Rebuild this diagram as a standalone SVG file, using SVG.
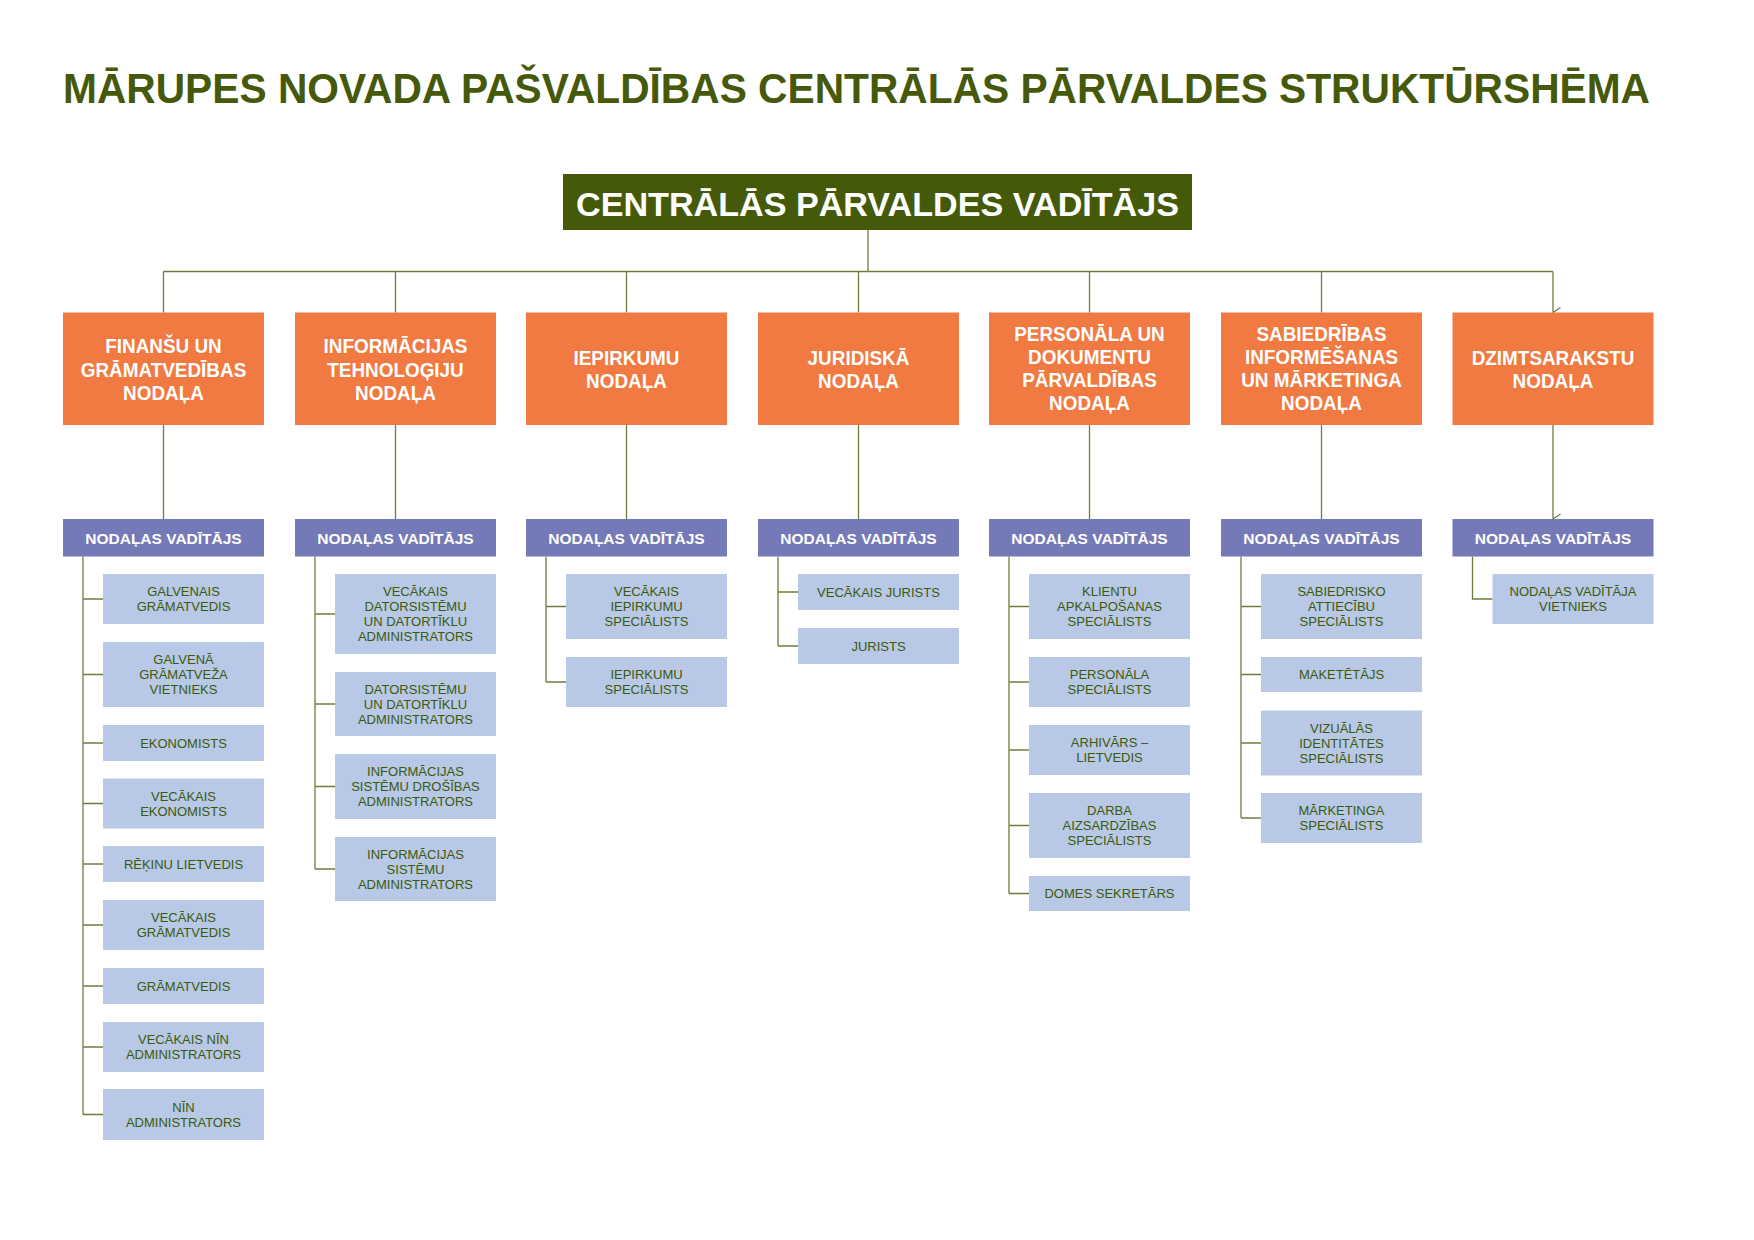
<svg xmlns="http://www.w3.org/2000/svg" width="1754" height="1240" viewBox="0 0 1754 1240">
<style>
.t{font-family:"Liberation Sans",Arial,sans-serif;font-weight:bold;fill:#46590a}
.r{font-family:"Liberation Sans",Arial,sans-serif;font-weight:bold;fill:#fff}
.o{fill:#f07a42}.p{fill:#7479b7}.b{fill:#b8c8e6}
.ot{font-family:"Liberation Sans",Arial,sans-serif;font-weight:bold;font-size:21px;fill:#fff;text-anchor:middle}
.pt{font-family:"Liberation Sans",Arial,sans-serif;font-weight:bold;font-size:15.5px;fill:#fff;text-anchor:middle}
.bt{font-family:"Liberation Sans",Arial,sans-serif;font-size:13px;fill:#3b5a0a;text-anchor:middle}
.c{fill:none;stroke:#6b7f3a;stroke-width:1.3}
</style>
<defs><marker id="a" markerWidth="12" markerHeight="9" refX="6" refY="8.5" orient="auto" markerUnits="userSpaceOnUse" viewBox="0 0 12 9"><path d="M1,1 L6,8.5 L11,1" fill="none" stroke="#6b7f3a" stroke-width="1.3"/></marker></defs>
<rect width="1754" height="1240" fill="#fff"/>
<text id="title" class="t" x="63" y="103" font-size="42" textLength="1587" lengthAdjust="spacingAndGlyphs">MĀRUPES NOVADA PAŠVALDĪBAS CENTRĀLĀS PĀRVALDES STRUKTŪRSHĒMA</text>
<g id="connectors">
<path class="c" d="M868,230V271.5M163.5,271.5H1553"/>
<path class="c" marker-end="url(#a)" d="M163.5,271.5V312.5M395.5,271.5V312.5M626.5,271.5V312.5M858.5,271.5V312.5M1089.5,271.5V312.5M1321.5,271.5V312.5M1553,271.5V312.5"/>
<path class="c" marker-end="url(#a)" d="M163.5,425V519M395.5,425V519M626.5,425V519M858.5,425V519M1089.5,425V519M1321.5,425V519M1553,425V519"/>
<path class="c" d="M83,556.5V1114.5M83,599H103M83,674.5H103M83,743H103M83,803.5H103M83,864H103M83,925H103M83,986H103M83,1047H103M83,1114.5H103"/>
<path class="c" d="M315,556.5V869M315,614H335M315,704H335M315,786.5H335M315,869H335"/>
<path class="c" d="M546,556.5V682M546,606.5H566M546,682H566"/>
<path class="c" d="M778,556.5V646M778,592H798M778,646H798"/>
<path class="c" d="M1009,556.5V893.5M1009,606.5H1029M1009,682H1029M1009,750H1029M1009,825.5H1029M1009,893.5H1029"/>
<path class="c" d="M1241,556.5V818M1241,606.5H1261M1241,674.5H1261M1241,743H1261M1241,818H1261"/>
<path class="c" d="M1472.5,556.5V599H1492.5"/>
</g>
<g id="root"><rect x="563" y="174" width="629" height="56" fill="#455a08"/><text class="r" x="576" y="216" font-size="34" textLength="603" lengthAdjust="spacingAndGlyphs">CENTRĀLĀS PĀRVALDES VADĪTĀJS</text></g>

<g id="d1"><rect class="o" x="63" y="312.5" width="201" height="112.5"/><text class="ot" transform="translate(163.5,0) scale(0.9,1)"><tspan x="0" y="353.5">FINANŠU UN</tspan><tspan x="0" y="377">GRĀMATVEDĪBAS</tspan><tspan x="0" y="400">NODAĻA</tspan></text></g>
<g id="d2"><rect class="o" x="295" y="312.5" width="201" height="112.5"/><text class="ot" transform="translate(395.5,0) scale(0.9,1)"><tspan x="0" y="353.5">INFORMĀCIJAS</tspan><tspan x="0" y="377">TEHNOLOĢIJU</tspan><tspan x="0" y="400">NODAĻA</tspan></text></g>
<g id="d3"><rect class="o" x="526" y="312.5" width="201" height="112.5"/><text class="ot" transform="translate(626.5,0) scale(0.9,1)"><tspan x="0" y="365">IEPIRKUMU</tspan><tspan x="0" y="388">NODAĻA</tspan></text></g>
<g id="d4"><rect class="o" x="758" y="312.5" width="201" height="112.5"/><text class="ot" transform="translate(858.5,0) scale(0.9,1)"><tspan x="0" y="365">JURIDISKĀ</tspan><tspan x="0" y="388">NODAĻA</tspan></text></g>
<g id="d5"><rect class="o" x="989" y="312.5" width="201" height="112.5"/><text class="ot" transform="translate(1089.5,0) scale(0.9,1)"><tspan x="0" y="341.5">PERSONĀLA UN</tspan><tspan x="0" y="364.5">DOKUMENTU</tspan><tspan x="0" y="387.5">PĀRVALDĪBAS</tspan><tspan x="0" y="410.5">NODAĻA</tspan></text></g>
<g id="d6"><rect class="o" x="1221" y="312.5" width="201" height="112.5"/><text class="ot" transform="translate(1321.5,0) scale(0.9,1)"><tspan x="0" y="341.5">SABIEDRĪBAS</tspan><tspan x="0" y="364.5">INFORMĒŠANAS</tspan><tspan x="0" y="387.5">UN MĀRKETINGA</tspan><tspan x="0" y="410.5">NODAĻA</tspan></text></g>
<g id="d7"><rect class="o" x="1452.5" y="312.5" width="201" height="112.5"/><text class="ot" transform="translate(1553,0) scale(0.9,1)"><tspan x="0" y="365">DZIMTSARAKSTU</tspan><tspan x="0" y="388">NODAĻA</tspan></text></g>

<g id="h1"><rect class="p" x="63" y="519" width="201" height="37.5"/><text class="pt" x="163.5" y="543.5">NODAĻAS VADĪTĀJS</text></g>
<g id="h2"><rect class="p" x="295" y="519" width="201" height="37.5"/><text class="pt" x="395.5" y="543.5">NODAĻAS VADĪTĀJS</text></g>
<g id="h3"><rect class="p" x="526" y="519" width="201" height="37.5"/><text class="pt" x="626.5" y="543.5">NODAĻAS VADĪTĀJS</text></g>
<g id="h4"><rect class="p" x="758" y="519" width="201" height="37.5"/><text class="pt" x="858.5" y="543.5">NODAĻAS VADĪTĀJS</text></g>
<g id="h5"><rect class="p" x="989" y="519" width="201" height="37.5"/><text class="pt" x="1089.5" y="543.5">NODAĻAS VADĪTĀJS</text></g>
<g id="h6"><rect class="p" x="1221" y="519" width="201" height="37.5"/><text class="pt" x="1321.5" y="543.5">NODAĻAS VADĪTĀJS</text></g>
<g id="h7"><rect class="p" x="1452.5" y="519" width="201" height="37.5"/><text class="pt" x="1553" y="543.5">NODAĻAS VADĪTĀJS</text></g>

<g id="c1a"><rect class="b" x="103" y="574" width="161" height="50"/><text class="bt"><tspan x="183.5" y="596">GALVENAIS</tspan><tspan x="183.5" y="611">GRĀMATVEDIS</tspan></text></g>
<g id="c1b"><rect class="b" x="103" y="642" width="161" height="65"/><text class="bt"><tspan x="183.5" y="664">GALVENĀ</tspan><tspan x="183.5" y="679">GRĀMATVEŽA</tspan><tspan x="183.5" y="694">VIETNIEKS</tspan></text></g>
<g id="c1c"><rect class="b" x="103" y="725" width="161" height="36"/><text class="bt" x="183.5" y="747.5">EKONOMISTS</text></g>
<g id="c1d"><rect class="b" x="103" y="778.5" width="161" height="50"/><text class="bt"><tspan x="183.5" y="800.5">VECĀKAIS</tspan><tspan x="183.5" y="815.5">EKONOMISTS</tspan></text></g>
<g id="c1e"><rect class="b" x="103" y="846" width="161" height="36"/><text class="bt" x="183.5" y="868.5">RĒĶINU LIETVEDIS</text></g>
<g id="c1f"><rect class="b" x="103" y="900" width="161" height="50"/><text class="bt"><tspan x="183.5" y="922">VECĀKAIS</tspan><tspan x="183.5" y="937">GRĀMATVEDIS</tspan></text></g>
<g id="c1g"><rect class="b" x="103" y="968" width="161" height="36"/><text class="bt" x="183.5" y="990.5">GRĀMATVEDIS</text></g>
<g id="c1h"><rect class="b" x="103" y="1022" width="161" height="50"/><text class="bt"><tspan x="183.5" y="1044">VECĀKAIS NĪN</tspan><tspan x="183.5" y="1059">ADMINISTRATORS</tspan></text></g>
<g id="c1i"><rect class="b" x="103" y="1089" width="161" height="51"/><text class="bt"><tspan x="183.5" y="1111.5">NĪN</tspan><tspan x="183.5" y="1126.5">ADMINISTRATORS</tspan></text></g>

<g id="c2a"><rect class="b" x="335" y="574" width="161" height="80"/><text class="bt"><tspan x="415.5" y="596">VECĀKAIS</tspan><tspan x="415.5" y="611">DATORSISTĒMU</tspan><tspan x="415.5" y="626">UN DATORTĪKLU</tspan><tspan x="415.5" y="641">ADMINISTRATORS</tspan></text></g>
<g id="c2b"><rect class="b" x="335" y="672" width="161" height="64"/><text class="bt"><tspan x="415.5" y="693.5">DATORSISTĒMU</tspan><tspan x="415.5" y="708.5">UN DATORTĪKLU</tspan><tspan x="415.5" y="723.5">ADMINISTRATORS</tspan></text></g>
<g id="c2c"><rect class="b" x="335" y="754" width="161" height="65"/><text class="bt"><tspan x="415.5" y="776">INFORMĀCIJAS</tspan><tspan x="415.5" y="791">SISTĒMU DROŠĪBAS</tspan><tspan x="415.5" y="806">ADMINISTRATORS</tspan></text></g>
<g id="c2d"><rect class="b" x="335" y="837" width="161" height="64"/><text class="bt"><tspan x="415.5" y="858.5">INFORMĀCIJAS</tspan><tspan x="415.5" y="873.5">SISTĒMU</tspan><tspan x="415.5" y="888.5">ADMINISTRATORS</tspan></text></g>

<g id="c3a"><rect class="b" x="566" y="574" width="161" height="65"/><text class="bt"><tspan x="646.5" y="596">VECĀKAIS</tspan><tspan x="646.5" y="611">IEPIRKUMU</tspan><tspan x="646.5" y="626">SPECIĀLISTS</tspan></text></g>
<g id="c3b"><rect class="b" x="566" y="657" width="161" height="50"/><text class="bt"><tspan x="646.5" y="679">IEPIRKUMU</tspan><tspan x="646.5" y="694">SPECIĀLISTS</tspan></text></g>

<g id="c4a"><rect class="b" x="798" y="574" width="161" height="36"/><text class="bt" x="878.5" y="596.5">VECĀKAIS JURISTS</text></g>
<g id="c4b"><rect class="b" x="798" y="628" width="161" height="36"/><text class="bt" x="878.5" y="650.5">JURISTS</text></g>

<g id="c5a"><rect class="b" x="1029" y="574" width="161" height="65"/><text class="bt"><tspan x="1109.5" y="596">KLIENTU</tspan><tspan x="1109.5" y="611">APKALPOŠANAS</tspan><tspan x="1109.5" y="626">SPECIĀLISTS</tspan></text></g>
<g id="c5b"><rect class="b" x="1029" y="657" width="161" height="50"/><text class="bt"><tspan x="1109.5" y="679">PERSONĀLA</tspan><tspan x="1109.5" y="694">SPECIĀLISTS</tspan></text></g>
<g id="c5c"><rect class="b" x="1029" y="725" width="161" height="50"/><text class="bt"><tspan x="1109.5" y="747">ARHIVĀRS –</tspan><tspan x="1109.5" y="762">LIETVEDIS</tspan></text></g>
<g id="c5d"><rect class="b" x="1029" y="793" width="161" height="65"/><text class="bt"><tspan x="1109.5" y="815">DARBA</tspan><tspan x="1109.5" y="830">AIZSARDZĪBAS</tspan><tspan x="1109.5" y="845">SPECIĀLISTS</tspan></text></g>
<g id="c5e"><rect class="b" x="1029" y="876" width="161" height="35"/><text class="bt" x="1109.5" y="898">DOMES SEKRETĀRS</text></g>

<g id="c6a"><rect class="b" x="1261" y="574" width="161" height="65"/><text class="bt"><tspan x="1341.5" y="596">SABIEDRISKO</tspan><tspan x="1341.5" y="611">ATTIECĪBU</tspan><tspan x="1341.5" y="626">SPECIĀLISTS</tspan></text></g>
<g id="c6b"><rect class="b" x="1261" y="657" width="161" height="35"/><text class="bt" x="1341.5" y="679">MAKETĒTĀJS</text></g>
<g id="c6c"><rect class="b" x="1261" y="710.5" width="161" height="65"/><text class="bt"><tspan x="1341.5" y="732.5">VIZUĀLĀS</tspan><tspan x="1341.5" y="747.5">IDENTITĀTES</tspan><tspan x="1341.5" y="762.5">SPECIĀLISTS</tspan></text></g>
<g id="c6d"><rect class="b" x="1261" y="793" width="161" height="50"/><text class="bt"><tspan x="1341.5" y="815">MĀRKETINGA</tspan><tspan x="1341.5" y="830">SPECIĀLISTS</tspan></text></g>

<g id="c7a"><rect class="b" x="1492.5" y="574" width="161" height="50"/><text class="bt"><tspan x="1573" y="596">NODAĻAS VADĪTĀJA</tspan><tspan x="1573" y="611">VIETNIEKS</tspan></text></g>
</svg>
